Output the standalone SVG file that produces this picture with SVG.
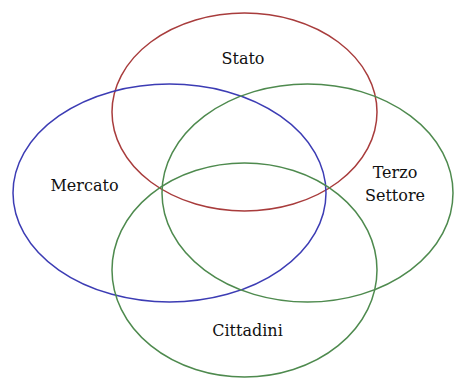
<svg xmlns="http://www.w3.org/2000/svg" width="455" height="378" viewBox="0 0 455 378">
<style>
.e{fill:none;stroke-width:1.5}
.r{stroke:#a83c3c}
.b{stroke:#3c3cb4}
.g{stroke:#4e8a4e}
text{font-family:"DejaVu Serif","Liberation Serif",serif;font-size:16px;fill:#111;text-anchor:middle}
</style>
<rect width="455" height="378" fill="#fff"/>
<g id="connectors"></g>
<g id="stato"><ellipse class="e r" cx="244.5" cy="112" rx="132.5" ry="99"/><text x="243" y="64">Stato</text></g>
<g id="mercato"><ellipse class="e b" cx="169.5" cy="193" rx="156.5" ry="109"/><text x="84.5" y="191">Mercato</text></g>
<g id="terzo"><ellipse class="e g" cx="307.5" cy="193" rx="145.5" ry="109"/><text x="395" y="178">Terzo</text><text x="395" y="201">Settore</text></g>
<g id="cittadini"><ellipse class="e g" cx="244.5" cy="270" rx="132.5" ry="107"/><text x="247.5" y="336">Cittadini</text></g>
</svg>
